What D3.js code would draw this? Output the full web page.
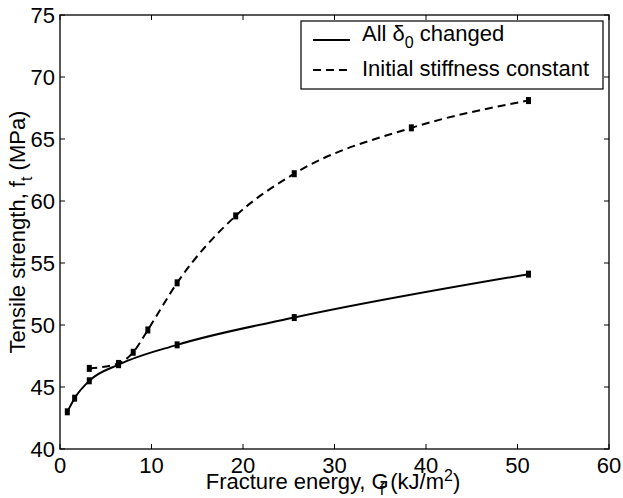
<!DOCTYPE html>
<html>
<head>
<meta charset="utf-8">
<script src="https://cdn.jsdelivr.net/npm/d3@7"></script>
<style>
  body { margin: 0; background: #fff; }
  text { font-family: "Liberation Sans", Arial, sans-serif; fill: #000; }
</style>
</head>
<body>
<svg id="chart" width="623" height="498"></svg>
<script>
// data
const allDeltaX = [0.8, 1.6, 3.2, 6.4, 12.8, 25.6, 51.2];
const allDeltaY = [43.0, 44.1, 45.5, 46.8, 48.4, 50.6, 54.1];
const stiffX = [3.2, 6.4, 8.0, 9.6, 12.8, 19.2, 25.6, 38.4, 51.2];
const stiffY = [46.5, 46.9, 47.8, 49.6, 53.4, 58.8, 62.2, 65.9, 68.1];
const xTicks = [0, 10, 20, 30, 40, 50, 60];
const yTicks = [40, 45, 50, 55, 60, 65, 70, 75];

const svg = d3.select("#chart");
const pLeft = 60, pRight = 609, pTop = 15, pBottom = 449;
const fs = 22, fsSub = 16;

//scales
const x = d3.scaleLinear().domain([0, 60]).range([pLeft, pRight]);
const y = d3.scaleLinear().domain([40, 75]).range([pBottom, pTop]);

// box
svg.append("rect")
  .attr("x", pLeft).attr("y", pTop)
  .attr("width", pRight - pLeft).attr("height", pBottom - pTop)
  .attr("fill", "none").attr("stroke", "#000").attr("stroke-width", 1.3);

// ticks (inside, on all four sides)
const tk = 5;
xTicks.forEach(t => {
  svg.append("line").attr("x1", x(t)).attr("x2", x(t)).attr("y1", pBottom).attr("y2", pBottom - tk).attr("stroke", "#000");
  svg.append("line").attr("x1", x(t)).attr("x2", x(t)).attr("y1", pTop).attr("y2", pTop + tk).attr("stroke", "#000");
  svg.append("text").attr("x", x(t)).attr("y", 473)
    .attr("text-anchor", "middle").attr("font-size", fs).text(t);
});
yTicks.forEach(t => {
  svg.append("line").attr("x1", pLeft).attr("x2", pLeft + tk).attr("y1", y(t)).attr("y2", y(t)).attr("stroke", "#000");
  svg.append("line").attr("x1", pRight).attr("x2", pRight - tk).attr("y1", y(t)).attr("y2", y(t)).attr("stroke", "#000");
  svg.append("text").attr("x", 55).attr("y", y(t) + 8)
    .attr("text-anchor", "end").attr("font-size", fs).text(t);
});

// lines
const line = (xs, ys) => d3.line()
  .x((d, i) => x(xs[i]))
  .y(d => y(d))
  .curve(d3.curveMonotoneX)(ys);

svg.append("path").attr("d", line(allDeltaX, allDeltaY))
  .attr("fill", "none").attr("stroke", "#000").attr("stroke-width", 2);
svg.append("path").attr("d", line(stiffX, stiffY))
  .attr("fill", "none").attr("stroke", "#000").attr("stroke-width", 2)
  .attr("stroke-dasharray", "8,5");

// little markers
function markers(xs, ys) {
  svg.append("g").selectAll("rect")
    .data(ys)
    .enter()
    .append("rect")
    .attr("x", (d, i) => x(xs[i]) - 2.5)
    .attr("y", d => y(d) - 3.5)
    .attr("width", 5).attr("height", 7)
    .attr("fill", "#000");
}
markers(allDeltaX, allDeltaY);
markers(stiffX, stiffY);

// axis labels
const xl = svg.append("text").attr("x", 333).attr("y", 489)
  .attr("text-anchor", "middle").attr("font-size", fs);
xl.append("tspan").text("Fracture energy, G");
xl.append("tspan").attr("dx", -9).attr("dy", 6).attr("font-size", fsSub).text("f");
xl.append("tspan").attr("dy", -6).text(" (kJ/m");
xl.append("tspan").attr("dy", -8).attr("font-size", fsSub).text("2");
xl.append("tspan").attr("dy", 8).text(")");

const yl = svg.append("text").attr("transform", "translate(25,232) rotate(-90)")
  .attr("text-anchor", "middle").attr("font-size", fs);
yl.append("tspan").text("Tensile strength, f");
yl.append("tspan").attr("dy", 7).attr("font-size", fsSub).text("t");
yl.append("tspan").attr("dy", -7).text(" (MPa)");

// legend
svg.append("rect").attr("x", 301).attr("y", 21).attr("width", 302).attr("height", 68)
  .attr("fill", "#fff").attr("stroke", "#000").attr("stroke-width", 1.2);
svg.append("line").attr("x1", 313).attr("x2", 350).attr("y1", 40).attr("y2", 40)
  .attr("stroke", "#000").attr("stroke-width", 2);
svg.append("line").attr("x1", 313).attr("x2", 350).attr("y1", 70).attr("y2", 70)
  .attr("stroke", "#000").attr("stroke-width", 2).attr("stroke-dasharray", "8,5");
const l1 = svg.append("text").attr("x", 362).attr("y", 41).attr("font-size", fs);
l1.append("tspan").text("All δ");
l1.append("tspan").attr("dy", 7).attr("font-size", fsSub).text("0");
l1.append("tspan").attr("dy", -7).text(" changed");
svg.append("text").attr("x", 362).attr("y", 76).attr("font-size", fs).text("Initial stiffness constant");
</script>
</body>
</html>
